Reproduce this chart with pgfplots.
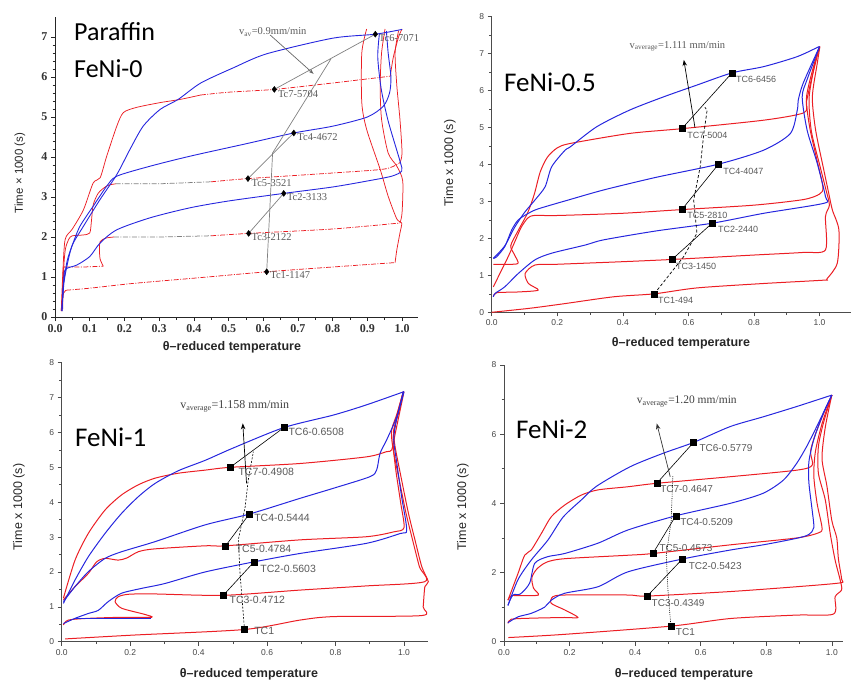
\documentclass[border=0pt]{standalone}
\usepackage{fontspec}
\setmainfont{Liberation Sans}
\newfontfamily\serif{Liberation Serif}
\newfontfamily\calib{Carlito}
\usepackage{pgfplots}
\pgfplotsset{compat=1.18}
\usetikzlibrary{arrows.meta}
\definecolor{myred}{RGB}{235,30,36}
\definecolor{myblue}{RGB}{38,38,222}
\definecolor{txtgray}{RGB}{90,90,90}
\tikzset{
 r/.style={draw=myred, line width=1pt, line join=round, smooth, tension=0.45},
 b/.style={draw=myblue, line width=1pt, line join=round, smooth, tension=0.45},
 rt/.style={draw=myred, line width=0.75pt, line join=round, smooth, tension=0.45},
 bt/.style={draw=myblue, line width=0.9pt, line join=round, smooth, tension=0.45},
 dd/.style={dash pattern=on 5pt off 1.5pt on 1pt off 1.5pt},
 sq/.style={only marks, mark=square*, mark size=3pt, mark options={fill=black, draw=black}},
 dm/.style={only marks, mark=diamond*, mark size=3pt, mark options={fill=black, draw=black}},
 tcl/.style={anchor=west, inner sep=0pt, text=txtgray, font=\fontsize{9}{9}\selectfont},
}
\pgfplotsset{
 myax/.style={scale only axis, anchor=south west, clip=false,
   axis x line*=bottom, axis y line*=left, tick align=outside,
   axis line style={gray!60!black, line width=0.8pt},
   tick style={gray!60!black, line width=0.6pt},
   major tick length=4pt, minor tick length=2.5pt,
   /pgf/number format/assume math mode=true,
   tick label style={font=\fontsize{8.5}{9}\selectfont, text=gray!55!black},
   xticklabel style={/pgf/number format/.cd, fixed, fixed zerofill, precision=1},
   yticklabel style={/pgf/number format/.cd, fixed, precision=0},
 },
}
\begin{document}
\begin{tikzpicture}
\useasboundingbox (0pt,0pt) rectangle (853pt,681pt);

% ================= Panel 1 : Paraffin FeNi-0 =================
\begin{axis}[myax, at={(55pt,364pt)}, width=363pt, height=300pt,
  xmin=0, xmax=1.046, ymin=0, ymax=7.5,
  xtick={0,0.1,0.2,0.3,0.4,0.5,0.6,0.7,0.8,0.9,1.0}, ytick={0,1,2,3,4,5,6,7},
  minor x tick num=1, minor y tick num=4,
  axis line style={black!85, line width=0.9pt}, tick style={black!85},
  tick label style={font=\serif\bfseries\fontsize{12}{12}\selectfont, text=black!80}]
% TC1
\addplot[rt] coordinates {(0.018,0.15)(0.02,0.4)(0.025,0.6)(0.032,0.67)};
\addplot[rt,dd] coordinates {(0.032,0.67)(0.1,0.72)(0.226,0.84)(0.4,0.97)(0.61,1.13)(0.8,1.25)(0.98,1.36)};
\addplot[rt] coordinates {(0.98,1.36)(0.985,1.68)(0.994,2.1)(0.999,2.35)(0.985,2.45)(0.96,3.02)(0.937,3.69)(0.898,4.69)(0.884,5.36)(0.884,6.6)(0.898,7.2)};
% TC3
\addplot[rt] coordinates {(0.02,0.15)(0.022,0.8)(0.024,1.22)(0.03,1.25)};
\addplot[rt,dd] coordinates {(0.03,1.25)(0.08,1.25)(0.139,1.27)};
\addplot[rt] coordinates {(0.139,1.27)(0.13,1.45)(0.128,1.7)(0.13,1.88)(0.145,1.97)(0.17,2.0)};
\addplot[draw=gray, line width=0.75pt, dd] coordinates {(0.17,2.0)(0.3,2.0)(0.45,2.03)};
\addplot[rt,dd] coordinates {(0.45,2.03)(0.558,2.09)(0.8,2.2)(0.994,2.35)};
\addplot[rt] coordinates {(0.994,2.35)(1.0,2.6)(1.002,3.4)(0.985,3.77)(0.96,4.1)(0.941,4.94)(0.937,5.78)(0.941,6.6)(0.951,7.2)};
% TC5
\addplot[rt] coordinates {(0.022,0.2)(0.025,1.2)(0.03,1.7)(0.04,1.95)(0.05,2.03)(0.08,2.05)(0.1,2.1)(0.105,2.4)(0.11,2.8)(0.125,3.1)(0.15,3.28)(0.175,3.33)};
\addplot[draw=gray, line width=0.75pt, dd] coordinates {(0.175,3.33)(0.3,3.33)(0.45,3.38)};
\addplot[rt,dd] coordinates {(0.45,3.38)(0.556,3.46)(0.8,3.6)(0.95,3.7)(0.994,3.86)};
\addplot[rt] coordinates {(0.994,3.86)(1.0,4.1)(0.994,4.94)(0.985,5.78)(0.98,6.6)(0.99,7.16)};
% TC7
\addplot[rt] coordinates {(0.018,0.15)(0.022,1.0)(0.029,1.93)(0.05,2.2)(0.082,2.68)(0.11,3.35)(0.13,3.48)(0.149,4.02)(0.178,4.77)(0.197,5.11)(0.235,5.24)(0.303,5.36)(0.361,5.44)(0.42,5.55)};
\addplot[rt,dd] coordinates {(0.42,5.55)(0.5,5.62)(0.632,5.69)(0.8,5.85)(0.966,6.02)};
\addplot[rt] coordinates {(0.966,6.02)(0.975,6.5)(0.99,7.0)(1.0,7.2)};
% TC2
\addplot[bt] coordinates {(0.02,0.15)(0.025,0.8)(0.029,1.18)(0.063,1.3)(0.10,1.51)(0.13,1.85)(0.178,2.18)(0.274,2.48)(0.389,2.73)(0.5,2.9)(0.659,3.09)(0.8,3.25)(0.9,3.4)(0.97,3.52)(0.999,3.65)(0.994,3.9)(0.96,4.9)(0.94,5.7)(0.93,6.5)(0.935,7.1)};
% TC4
\addplot[bt] coordinates {(0.02,0.15)(0.024,0.8)(0.035,1.4)(0.05,1.8)(0.072,2.27)(0.11,2.77)(0.149,3.27)(0.178,3.52)(0.274,3.77)(0.389,4.02)(0.55,4.33)(0.688,4.6)(0.8,4.77)(0.9,5.0)(0.946,5.27)(0.964,5.6)(0.968,6.0)(0.96,6.6)(0.955,7.15)};
% TC6
\addplot[bt] coordinates {(0.02,0.15)(0.024,0.76)(0.035,1.3)(0.05,1.8)(0.082,2.27)(0.13,2.94)(0.178,3.56)(0.216,4.19)(0.254,4.77)(0.303,5.19)(0.355,5.44)(0.42,5.85)(0.514,6.23)(0.61,6.58)(0.8,6.97)(0.923,7.07)(1.0,7.19)};
% annotation lines
\addplot[draw=gray, line width=0.7pt] coordinates {(0.558,2.09)(0.659,3.09)};
\addplot[draw=gray, line width=0.7pt] coordinates {(0.556,3.46)(0.688,4.6)};
\addplot[draw=gray, line width=0.7pt] coordinates {(0.632,5.69)(0.923,7.07)};
\addplot[draw=gray, line width=0.7pt] coordinates {(0.61,1.13)(0.627,4.1)(0.795,6.45)};
\addplot[draw=gray!80!black, line width=0.7pt, -{Stealth[length=5pt]}] coordinates {(0.62,7.05)(0.745,6.08)};
\addplot[dm] coordinates {(0.61,1.13)(0.558,2.09)(0.556,3.46)(0.659,3.09)(0.688,4.6)(0.632,5.69)(0.923,7.07)};
\node[tcl, font=\serif\fontsize{10.5}{10.5}\selectfont] at (axis cs:0.62,1.05) {Tc1-1147};
\node[tcl, font=\serif\fontsize{10.5}{10.5}\selectfont] at (axis cs:0.566,2.0) {Tc3-2122};
\node[tcl, font=\serif\fontsize{10.5}{10.5}\selectfont] at (axis cs:0.566,3.36) {Tc5-3521};
\node[tcl, font=\serif\fontsize{10.5}{10.5}\selectfont] at (axis cs:0.668,3.0) {Tc2-3133};
\node[tcl, font=\serif\fontsize{10.5}{10.5}\selectfont] at (axis cs:0.698,4.5) {Tc4-4672};
\node[tcl, font=\serif\fontsize{10.5}{10.5}\selectfont] at (axis cs:0.642,5.58) {Tc7-5704};
\node[tcl, font=\serif\fontsize{10.5}{10.5}\selectfont] at (axis cs:0.933,6.98) {Tc6-7071};
\node[tcl, font=\serif\fontsize{10.5}{10.5}\selectfont] at (axis cs:0.53,7.12) {v\textsubscript{av}=0.9mm/min};
\end{axis}

% ================= Panel 2 : FeNi-0.5 =================
\begin{axis}[myax, at={(491.7pt,368.7pt)}, width=359pt, height=295.6pt,
  xmin=0, xmax=1.095, ymin=0, ymax=8,
  xtick={0,0.2,0.4,0.6,0.8,1.0}, ytick={0,1,2,3,4,5,6,7,8},
  minor x tick num=1, minor y tick num=1]
\addplot[r] coordinates {(0.0,0.0)(0.117,0.11)(0.219,0.23)(0.372,0.42)(0.496,0.5)(0.626,0.66)(0.83,0.78)(1.013,0.87)(1.022,0.9)(1.054,1.33)(1.059,2.23)(1.039,2.77)(1.028,3.22)(1.013,3.85)(0.988,4.93)(0.978,5.83)(0.993,6.74)(1.001,7.19)};
\addplot[r] coordinates {(0.005,0.42)(0.015,0.53)(0.08,0.55)(0.142,0.6)(0.112,0.78)(0.102,1.05)(0.132,1.28)(0.2,1.3)(0.4,1.37)(0.55,1.43)(0.8,1.55)(0.95,1.62)(1.018,1.69)(1.018,2.59)(1.03,2.9)(1.02,3.3)(1.0,4.0)(0.975,4.9)(0.968,5.8)(0.985,6.7)(1.0,7.19)};
\addplot[r] coordinates {(0.005,0.69)(0.025,1.05)(0.05,1.5)(0.07,1.9)(0.09,2.3)(0.11,2.55)(0.13,2.62)(0.2,2.62)(0.4,2.68)(0.58,2.78)(0.8,2.9)(0.95,3.05)(1.0,3.2)(1.01,3.4)(0.99,4.2)(0.97,5.0)(0.96,5.8)(0.98,6.6)(1.0,7.19)};
\addplot[r] coordinates {(0.005,1.3)(0.04,1.3)(0.08,1.32)(0.07,1.55)(0.058,1.8)(0.08,2.2)(0.11,2.7)(0.13,3.2)(0.148,3.8)(0.17,4.2)(0.2,4.45)(0.24,4.57)(0.42,4.84)(0.58,4.97)(0.83,5.2)(0.952,5.4)(0.96,5.7)(0.975,6.3)(1.0,7.19)};
\addplot[b] coordinates {(0.005,0.42)(0.01,0.51)(0.04,0.69)(0.081,1.05)(0.132,1.42)(0.183,1.6)(0.285,1.82)(0.341,1.96)(0.5,2.2)(0.672,2.41)(0.83,2.68)(1.013,2.95)(1.018,3.13)(0.993,4.03)(0.962,4.93)(0.947,5.83)(0.962,6.3)(1.0,7.19)};
\addplot[b] coordinates {(0.005,1.46)(0.015,1.5)(0.04,1.78)(0.061,2.23)(0.081,2.5)(0.112,2.68)(0.142,2.8)(0.234,3.04)(0.341,3.31)(0.5,3.65)(0.692,4.01)(0.83,4.39)(0.911,4.84)(0.932,5.47)(0.935,5.74)(0.95,6.2)(1.0,7.19)};
\addplot[b] coordinates {(0.005,1.46)(0.04,1.8)(0.07,2.3)(0.1,2.7)(0.132,3.04)(0.163,3.4)(0.183,3.94)(0.224,4.39)(0.24,4.48)(0.32,5.02)(0.42,5.47)(0.524,5.83)(0.626,6.15)(0.733,6.48)(0.83,6.65)(0.932,6.92)(0.998,7.19)};
\addplot[black, line width=0.6pt] coordinates {(0.55,1.43)(0.672,2.41)};
\addplot[black, line width=0.6pt] coordinates {(0.58,2.78)(0.692,4.01)};
\addplot[black, line width=0.6pt] coordinates {(0.58,4.97)(0.733,6.48)};
\addplot[black, line width=0.7pt, dash pattern=on 3pt off 2pt] coordinates {(0.496,0.5)(0.585,1.5)(0.626,2.14)(0.616,3.04)(0.636,3.94)(0.647,4.84)(0.657,5.47)(0.65,5.55)};
\addplot[black, line width=0.7pt, -{Stealth[length=6pt]}] coordinates {(0.62,5.0)(0.586,6.83)};
\addplot[sq] coordinates {(0.496,0.5)(0.55,1.43)(0.672,2.41)(0.58,2.78)(0.692,4.01)(0.58,4.97)(0.733,6.48)};
\node[tcl] at (axis cs:0.745,6.3) {TC6-6456};
\node[tcl] at (axis cs:0.596,4.8) {TC7-5004};
\node[tcl] at (axis cs:0.706,3.8) {TC4-4047};
\node[tcl] at (axis cs:0.596,2.63) {TC5-2810};
\node[tcl] at (axis cs:0.69,2.25) {TC2-2440};
\node[tcl] at (axis cs:0.562,1.24) {TC3-1450};
\node[tcl] at (axis cs:0.507,0.33) {TC1-494};
\node[tcl, font=\serif\fontsize{10.5}{10.5}\selectfont] at (axis cs:0.42,7.2) {v\textsubscript{average}=1.111 mm/min};
\end{axis}

% ================= Panel 3 : FeNi-1 =================
\begin{axis}[myax, at={(61.7pt,39.3pt)}, width=366.6pt, height=279pt,
  xmin=0, xmax=1.071, ymin=0, ymax=8,
  xtick={0,0.2,0.4,0.6,0.8,1.0}, ytick={0,1,2,3,4,5,6,7,8},
  minor x tick num=1, minor y tick num=1]
\addplot[r] coordinates {(0.01,0.08)(0.21,0.19)(0.534,0.35)(0.696,0.62)(0.794,0.72)(1.052,0.75)(1.056,1.0)(1.061,1.58)(1.071,1.72)(1.052,2.15)(1.032,2.92)(1.013,3.68)(0.993,4.64)(0.974,5.59)(0.97,6.07)(0.984,6.55)(0.998,7.17)};
\addplot[r] coordinates {(0.005,0.48)(0.019,0.62)(0.078,0.67)(0.175,0.7)(0.263,0.7)(0.24,0.79)(0.175,0.96)(0.156,1.15)(0.165,1.29)(0.195,1.36)(0.268,1.37)(0.472,1.33)(0.696,1.48)(0.89,1.6)(1.06,1.72)(1.045,2.15)(1.025,2.92)(1.006,3.68)(0.986,4.64)(0.967,5.59)(0.964,6.07)(0.98,6.55)(0.998,7.17)};
\addplot[r] coordinates {(0.005,1.2)(0.039,1.58)(0.078,1.96)(0.102,2.29)(0.127,2.39)(0.165,2.34)(0.19,2.4)(0.224,2.58)(0.27,2.66)(0.419,2.75)(0.479,2.75)(0.696,2.92)(0.89,3.01)(0.97,3.15)(1.0,3.27)(0.99,4.0)(0.975,5.0)(0.968,5.8)(0.98,6.5)(0.998,7.17)};
\addplot[r] coordinates {(0.005,1.25)(0.039,2.34)(0.078,3.11)(0.127,3.78)(0.175,4.21)(0.224,4.5)(0.273,4.69)(0.34,4.83)(0.419,4.92)(0.492,5.0)(0.696,5.11)(0.89,5.3)(0.949,5.45)(0.964,5.5)(0.975,6.0)(0.99,6.7)(1.0,7.17)};
\addplot[b] coordinates {(0.04,0.655)(0.26,0.655)};
\addplot[b] coordinates {(0.005,0.52)(0.039,0.67)(0.078,0.81)(0.107,0.9)(0.136,1.15)(0.175,1.39)(0.234,1.53)(0.302,1.67)(0.419,2.0)(0.562,2.29)(0.696,2.53)(0.89,2.82)(0.988,3.1)(1.008,3.2)(0.993,4.16)(0.979,5.12)(0.97,5.8)(0.979,6.4)(0.998,7.17)};
\addplot[b] coordinates {(0.005,1.15)(0.039,1.58)(0.078,2.01)(0.127,2.39)(0.175,2.58)(0.273,2.87)(0.419,3.35)(0.548,3.66)(0.696,4.11)(0.794,4.4)(0.9,4.73)(0.92,4.92)(0.93,5.4)(0.949,5.78)(0.979,6.45)(1.0,7.17)};
\addplot[b] coordinates {(0.005,1.1)(0.039,1.77)(0.078,2.44)(0.127,3.11)(0.175,3.68)(0.224,4.16)(0.273,4.54)(0.34,4.9)(0.419,5.2)(0.5,5.55)(0.649,6.14)(0.794,6.5)(0.89,6.79)(1.0,7.17)};
\addplot[black, line width=0.6pt] coordinates {(0.472,1.33)(0.562,2.29)};
\addplot[black, line width=0.6pt] coordinates {(0.479,2.75)(0.548,3.66)};
\addplot[black, line width=0.6pt] coordinates {(0.492,5.0)(0.649,6.14)};
\addplot[black, line width=0.6pt, dash pattern=on 2pt off 1.5pt] coordinates {(0.534,0.35)(0.521,1.96)(0.516,2.92)(0.536,3.87)(0.545,4.64)(0.56,5.45)};
\addplot[black, line width=0.7pt, -{Stealth[length=6pt]}] coordinates {(0.54,4.54)(0.529,6.26)};
\addplot[sq] coordinates {(0.534,0.35)(0.472,1.33)(0.562,2.29)(0.479,2.75)(0.548,3.66)(0.492,5.0)(0.649,6.14)};
\node[tcl, font=\fontsize{10.5}{10.5}\selectfont] at (axis cs:0.662,6.02) {TC6-0.6508};
\node[tcl, font=\fontsize{10.5}{10.5}\selectfont] at (axis cs:0.516,4.88) {TC7-0.4908};
\node[tcl, font=\fontsize{10.5}{10.5}\selectfont] at (axis cs:0.562,3.54) {TC4-0.5444};
\node[tcl, font=\fontsize{10.5}{10.5}\selectfont] at (axis cs:0.508,2.66) {TC5-0.4784};
\node[tcl, font=\fontsize{10.5}{10.5}\selectfont] at (axis cs:0.58,2.1) {TC2-0.5603};
\node[tcl, font=\fontsize{10.5}{10.5}\selectfont] at (axis cs:0.49,1.2) {TC3-0.4712};
\node[tcl, font=\fontsize{10.5}{10.5}\selectfont] at (axis cs:0.562,0.31) {TC1};
\node[tcl, text=black!75, font=\serif\fontsize{12}{12}\selectfont] at (axis cs:0.346,6.74) {v\textsubscript{average}=1.158 mm/min};
\end{axis}

% ================= Panel 4 : FeNi-2 =================
\begin{axis}[myax, at={(504pt,39.3pt)}, width=339.3pt, height=276.7pt,
  xmin=0, xmax=1.035, ymin=0, ymax=8,
  xtick={0,0.2,0.4,0.6,0.8,1.0}, ytick={0,2,4,6,8},
  minor x tick num=1, minor y tick num=1]
\addplot[r] coordinates {(0.013,0.12)(0.18,0.21)(0.509,0.45)(0.69,0.67)(0.893,0.77)(1.005,0.8)(1.01,1.3)(1.03,1.5)(1.025,1.8)(1.01,2.36)(0.995,3.13)(0.98,4.1)(0.959,4.87)(0.959,5.64)(0.974,6.31)(1.0,7.13)};
\addplot[r] coordinates {(0.012,0.53)(0.022,0.65)(0.083,0.68)(0.185,0.7)(0.226,0.7)(0.185,0.92)(0.144,1.11)(0.149,1.3)(0.185,1.35)(0.378,1.35)(0.437,1.32)(0.69,1.45)(0.893,1.59)(1.025,1.7)(1.03,1.8)(1.02,2.4)(1.015,3.0)(1.0,3.5)(0.985,4.5)(0.97,5.3)(0.98,6.2)(1.0,7.13)};
\addplot[r] coordinates {(0.012,1.2)(0.022,1.33)(0.05,1.33)(0.105,1.35)(0.09,1.55)(0.085,1.85)(0.1,2.1)(0.13,2.3)(0.185,2.4)(0.378,2.5)(0.454,2.55)(0.69,2.8)(0.893,3.0)(0.96,3.15)(0.97,3.3)(0.955,4.0)(0.945,4.8)(0.95,5.5)(0.97,6.3)(1.0,7.13)};
\addplot[r] coordinates {(0.012,1.2)(0.043,1.98)(0.063,2.5)(0.083,2.65)(0.114,3.13)(0.144,3.61)(0.185,3.95)(0.236,4.24)(0.287,4.39)(0.378,4.48)(0.466,4.58)(0.69,4.77)(0.893,4.96)(0.94,5.1)(0.935,5.5)(0.95,6.0)(0.975,6.6)(1.0,7.13)};
\addplot[b] coordinates {(0.012,0.55)(0.043,0.72)(0.083,0.82)(0.124,1.0)(0.144,1.2)(0.185,1.4)(0.287,1.59)(0.378,2.02)(0.544,2.39)(0.69,2.65)(0.79,2.8)(0.893,2.99)(0.93,3.1)(0.945,3.3)(0.94,3.8)(0.93,4.6)(0.93,5.2)(0.945,5.85)(0.974,6.6)(1.0,7.13)};
\addplot[b] coordinates {(0.012,1.05)(0.027,1.35)(0.05,1.38)(0.078,1.69)(0.094,2.27)(0.134,2.46)(0.185,2.55)(0.287,2.85)(0.378,3.23)(0.524,3.64)(0.69,4.0)(0.79,4.29)(0.852,4.67)(0.893,5.16)(0.923,5.64)(0.954,6.22)(1.0,7.13)};
\addplot[b] coordinates {(0.012,1.05)(0.043,1.8)(0.083,2.36)(0.134,2.94)(0.18,3.6)(0.236,4.1)(0.283,4.5)(0.385,5.06)(0.486,5.45)(0.578,5.76)(0.69,6.22)(0.79,6.5)(0.893,6.8)(1.0,7.13)};
\addplot[black, line width=0.6pt] coordinates {(0.437,1.32)(0.544,2.39)};
\addplot[black, line width=0.6pt] coordinates {(0.454,2.55)(0.524,3.64)};
\addplot[black, line width=0.6pt] coordinates {(0.466,4.58)(0.578,5.76)};
\addplot[black, line width=0.6pt, dash pattern=on 1pt off 1.2pt] coordinates {(0.509,0.45)(0.5,1.5)(0.495,2.5)(0.51,3.5)(0.515,4.8)};
\addplot[black!80, line width=0.7pt, -{Stealth[length=6pt]}] coordinates {(0.507,4.77)(0.466,6.31)};
\addplot[sq] coordinates {(0.509,0.45)(0.437,1.32)(0.544,2.39)(0.454,2.55)(0.524,3.64)(0.466,4.58)(0.578,5.76)};
\node[tcl, font=\fontsize{10}{10}\selectfont] at (axis cs:0.596,5.59) {TC6-0.5779};
\node[tcl, font=\fontsize{10}{10}\selectfont] at (axis cs:0.476,4.41) {TC7-0.4647};
\node[tcl, font=\fontsize{10}{10}\selectfont] at (axis cs:0.537,3.47) {TC4-0.5209};
\node[tcl, font=\fontsize{10}{10}\selectfont] at (axis cs:0.474,2.7) {TC5-0.4573};
\node[tcl, font=\fontsize{10}{10}\selectfont] at (axis cs:0.563,2.2) {TC2-0.5423};
\node[tcl, font=\fontsize{10}{10}\selectfont] at (axis cs:0.45,1.11) {TC3-0.4349};
\node[tcl, font=\fontsize{10}{10}\selectfont] at (axis cs:0.524,0.27) {TC1};
\node[tcl, text=black!75, font=\serif\fontsize{11.5}{11.5}\selectfont] at (axis cs:0.405,6.94) {v\textsubscript{average}=1.20 mm/min};
\end{axis}

% ================= titles and axis labels =================
\node[anchor=west, inner sep=0pt, font=\calib\fontsize{26}{26}\selectfont] at (74pt,649pt) {Paraffin};
\node[anchor=west, inner sep=0pt, font=\calib\fontsize{26}{26}\selectfont] at (74pt,612pt) {FeNi-0};
\node[anchor=west, inner sep=0pt, font=\calib\fontsize{27}{27}\selectfont] at (504pt,599pt) {FeNi-0.5};
\node[anchor=west, inner sep=0pt, font=\calib\fontsize{27}{27}\selectfont] at (75pt,244pt) {FeNi-1};
\node[anchor=west, inner sep=0pt, font=\calib\fontsize{27}{27}\selectfont] at (516pt,252pt) {FeNi-2};

\node[inner sep=0pt, font=\bfseries\fontsize{12.5}{12.5}\selectfont, text=black!85] at (232pt,334pt) {θ–reduced temperature};
\node[inner sep=0pt, font=\bfseries\fontsize{12.5}{12.5}\selectfont, text=black!85] at (681pt,338pt) {θ–reduced temperature};
\node[inner sep=0pt, font=\bfseries\fontsize{12.5}{12.5}\selectfont, text=black!85] at (249pt,7pt) {θ–reduced temperature};
\node[inner sep=0pt, font=\bfseries\fontsize{12.5}{12.5}\selectfont, text=black!85] at (684pt,7pt) {θ–reduced temperature};

\node[rotate=90, inner sep=0pt, font=\fontsize{11.5}{11.5}\selectfont, text=black!85] at (20pt,508pt) {Time × 1000 (s)};
\node[rotate=90, inner sep=0pt, font=\fontsize{12.5}{12.5}\selectfont, text=black!85] at (450pt,518pt) {Time x 1000 (s)};
\node[rotate=90, inner sep=0pt, font=\fontsize{12.5}{12.5}\selectfont, text=black!85] at (19pt,174pt) {Time x 1000 (s)};
\node[rotate=90, inner sep=0pt, font=\fontsize{12.5}{12.5}\selectfont, text=black!85] at (463pt,174pt) {Time x 1000 (s)};
\end{tikzpicture}
\end{document}
